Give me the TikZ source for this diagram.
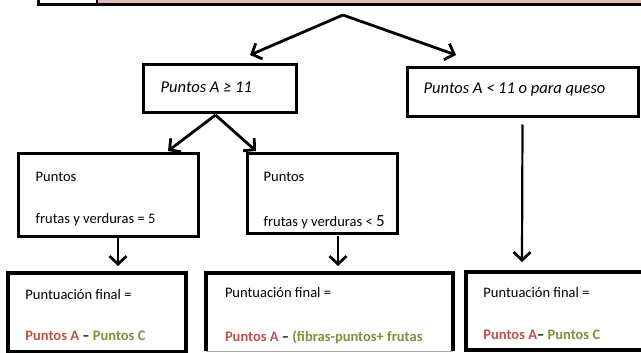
\documentclass[tikz,border=0pt]{standalone}
\usepackage{fontspec}
\setmainfont{Carlito}
\usetikzlibrary{arrows.meta}
\definecolor{pinkbar}{RGB}{230,184,183}
\definecolor{redA}{RGB}{192,80,77}
\definecolor{greenC}{RGB}{119,147,60}
\tikzset{
  boxline/.style={line width=3pt},
  box/.style={boxline, draw, rectangle, inner sep=0pt},
  arr/.style={line width=2.8pt, -{Straight Barb[length=8pt,width=17pt,line width=2.8pt]}},
  txt/.style={anchor=west, inner sep=0pt, font=\fontsize{14.5}{16}\selectfont},
  itxt/.style={anchor=west, inner sep=0pt, font=\fontsize{16.5}{18}\selectfont\itshape},
  btxt/.style={anchor=west, inner sep=0pt, font=\fontsize{14.5}{16}\selectfont\bfseries}
}
\begin{document}
\begin{tikzpicture}[x=1pt,y=-1pt]
\useasboundingbox (0,0) rectangle (641,353);
% cut-off table at the top
\fill[pinkbar] (98,-6) rectangle (646,3);
\draw[line width=3pt] (38,-6) -- (38,4.5) -- (646,4.5);
\draw[line width=2pt] (97,-6) -- (97,4.5);
% boxes
\node[box, minimum width=153pt, minimum height=48pt] (b1) at (219.5,89) {};
\node[box, minimum width=231pt, minimum height=49pt] (b2) at (522.5,92.5) {};
\node[box, minimum width=180pt, minimum height=82pt] (b3) at (108,195) {};
\node[box, minimum width=150pt, minimum height=79pt] (b4) at (322,193.5) {};
\node[box, line width=3.5pt, minimum width=178pt, minimum height=79pt] (b5) at (97,312.5) {};
\node[rectangle, inner sep=0pt, minimum width=247pt, minimum height=78pt] (b6) at (329.5,312) {};
\draw[line width=3.5pt] (b6.south west) -- (b6.north west) -- (b6.north east) -- (b6.south east);
\draw[gray!70, line width=0.8pt] (b6.south west) -- (b6.south east);
\node[box, line width=3.5pt, minimum width=180pt, minimum height=78pt] (b7) at (556,311) {};
% texts
\node[itxt] (t1) at ([xshift=19pt,yshift=2pt]b1.west) {Puntos A ≥ 11};
\node[itxt] (t2) at ([xshift=18pt,yshift=2.5pt]b2.west) {Puntos A < 11 o para queso};
\node[txt] (t3a) at ([xshift=19pt,yshift=18pt]b3.west) {Puntos};
\node[txt] (t3b) at ([xshift=19pt,yshift=-25pt]b3.west) {frutas y verduras = 5};
\node[txt] (t4a) at ([xshift=18pt,yshift=16.5pt]b4.west) {Puntos};
\node[txt] (t4b) at ([xshift=18pt,yshift=-28.5pt]b4.west) {frutas y verduras < {\fontsize{17}{17}\selectfont 5}};
\node[txt] (t5a) at ([xshift=19pt,yshift=17.5pt]b5.west) {Puntuación final =};
\node[btxt] (t5b) at ([xshift=19pt,yshift=-23.5pt]b5.west) {\textcolor{redA}{Puntos A} – \textcolor{greenC}{Puntos C}};
\node[txt] (t6a) at ([xshift=19pt,yshift=19pt]b6.west) {Puntuación final =};
\node[btxt] (t6b) at ([xshift=19pt,yshift=-25pt]b6.west) {\textcolor{redA}{Puntos A} – \textcolor{greenC}{(fibras-puntos+ frutas}};
\node[txt] (t7a) at ([xshift=19pt,yshift=18pt]b7.west) {Puntuación final =};
\node[btxt] (t7b) at ([xshift=19pt,yshift=-24pt]b7.west) {\textcolor{redA}{Puntos A}– \textcolor{greenC}{Puntos C}};
% connectors
\coordinate (top) at (343,15);
\coordinate (e1) at (250,55);
\coordinate (e2) at (456,55);
\draw[arr] (top) -- (e1);
\draw[arr] (top) -- (e2);
\coordinate (s1) at (215.5,115);
\coordinate (e3) at (168,151);
\coordinate (e4) at (256,151);
\draw[arr] (s1) -- (e3);
\draw[arr] (s1) -- (e4);
\coordinate (s2) at ([yshift=-6pt]b2.south);
\coordinate (e5) at (522,262);
\draw[arr, line width=2.2pt] (s2) -- (e5);
\coordinate (s3) at (118,238);
\coordinate (e6) at (118,266);
\draw[arr] (s3) -- (e6);
\coordinate (s4) at (338,236);
\coordinate (e7) at (338,266);
\draw[arr] (s4) -- (e7);
\end{tikzpicture}
\end{document}
